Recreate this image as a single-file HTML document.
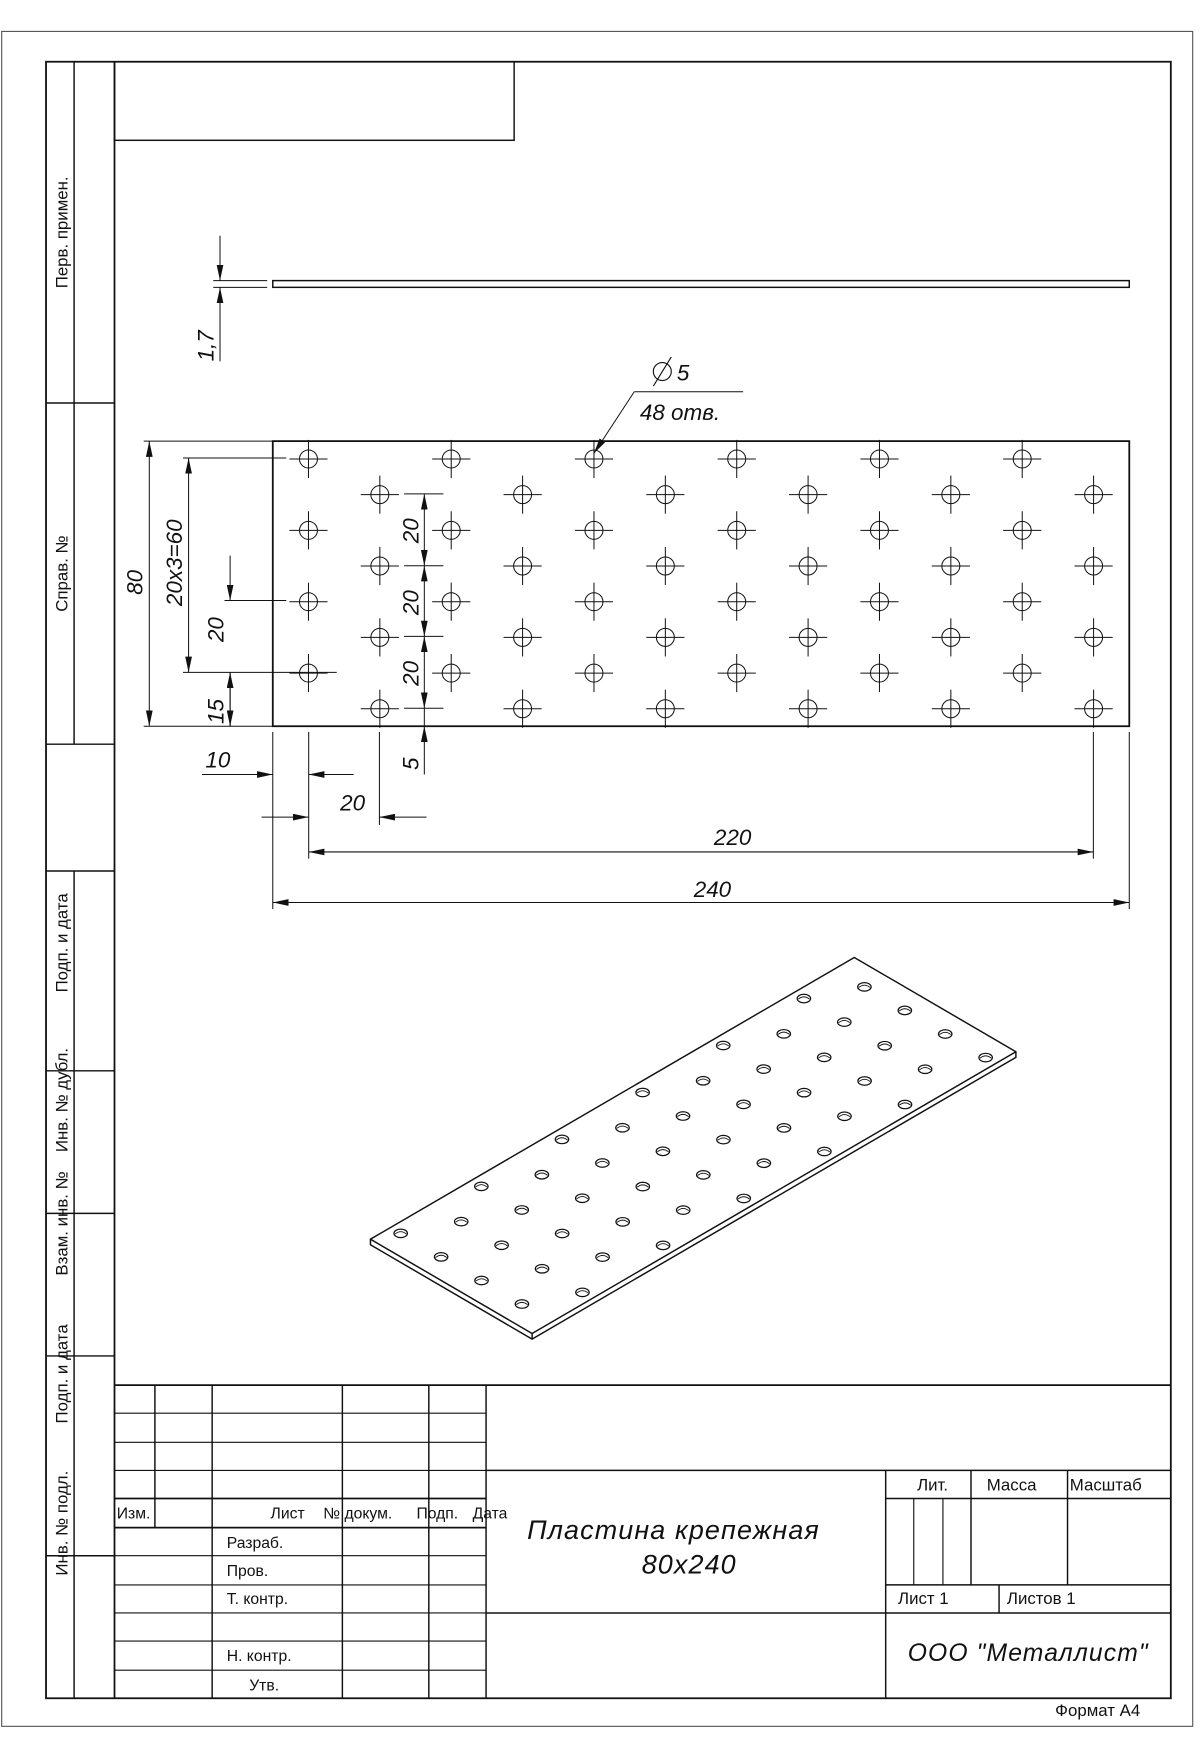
<!DOCTYPE html>
<html><head><meta charset="utf-8"><style>
html,body{margin:0;padding:0;background:#fff}
svg{display:block}
text{font-family:"Liberation Sans","DejaVu Sans",sans-serif;fill:#111}
.d{font-style:italic;font-size:20px}
.s{font-size:14px}
.v{font-size:15px}
</style></head><body>
<svg id="sv" width="1200" height="1760" viewBox="0 0 1069 1568" preserveAspectRatio="none" xmlns="http://www.w3.org/2000/svg">
<defs>
<marker id="ar" viewBox="0 0 14 6" refX="14" refY="3" markerWidth="14" markerHeight="6" markerUnits="userSpaceOnUse" orient="auto-start-reverse"><path d="M0,0 L14,3 L0,6 Z" fill="#111"/></marker>
</defs>
<g fill="none" stroke="#111">
<rect x="1.5" y="28" width="1061" height="1510" stroke-width="1" stroke="#555"/>
<rect x="41" y="55" width="1002" height="1458" stroke-width="1.6"/>
<line x1="102" y1="55" x2="102" y2="1513" stroke-width="1.6"/>
<line x1="66" y1="55" x2="66" y2="663" stroke-width="1.3"/>
<line x1="41" y1="359" x2="102" y2="359" stroke-width="1.3"/>
<line x1="41" y1="663" x2="102" y2="663" stroke-width="1.3"/>
<line x1="66" y1="776" x2="66" y2="1513" stroke-width="1.3"/>
<line x1="41" y1="776" x2="102" y2="776" stroke-width="1.3"/>
<line x1="41" y1="954" x2="102" y2="954" stroke-width="1.3"/>
<line x1="41" y1="1081" x2="102" y2="1081" stroke-width="1.3"/>
<line x1="41" y1="1208" x2="102" y2="1208" stroke-width="1.3"/>
<line x1="41" y1="1386" x2="102" y2="1386" stroke-width="1.3"/>
<rect x="102" y="55" width="356" height="70" stroke-width="1.3"/>
<line x1="102" y1="1234" x2="1043" y2="1234" stroke-width="1.6"/>
<g stroke-width="1">
<line x1="102" y1="1259" x2="433" y2="1259"/>
<line x1="102" y1="1285" x2="433" y2="1285"/>
<line x1="102" y1="1310" x2="433" y2="1310"/>
<line x1="102" y1="1386" x2="433" y2="1386"/>
<line x1="102" y1="1412" x2="433" y2="1412"/>
<line x1="102" y1="1437" x2="433" y2="1437"/>
<line x1="102" y1="1462" x2="433" y2="1462"/>
<line x1="102" y1="1488" x2="433" y2="1488"/>
</g>
<line x1="102" y1="1335" x2="433" y2="1335" stroke-width="1.6"/>
<line x1="102" y1="1361" x2="433" y2="1361" stroke-width="1.6"/>
<line x1="138" y1="1234" x2="138" y2="1361" stroke-width="1.3"/>
<line x1="189" y1="1234" x2="189" y2="1513" stroke-width="1.3"/>
<line x1="305" y1="1234" x2="305" y2="1513" stroke-width="1.3"/>
<line x1="382" y1="1234" x2="382" y2="1513" stroke-width="1.3"/>
<line x1="433" y1="1234" x2="433" y2="1513" stroke-width="1.3"/>
<line x1="433" y1="1310" x2="1043" y2="1310" stroke-width="1.3"/>
<line x1="433" y1="1437" x2="1043" y2="1437" stroke-width="1.3"/>
<line x1="789" y1="1310" x2="789" y2="1513" stroke-width="1.3"/>
<line x1="789" y1="1335" x2="1043" y2="1335" stroke-width="1.3"/>
<line x1="789" y1="1412" x2="1043" y2="1412" stroke-width="1.3"/>
<line x1="865" y1="1310" x2="865" y2="1412" stroke-width="1.3"/>
<line x1="951" y1="1310" x2="951" y2="1412" stroke-width="1.3"/>
<line x1="814" y1="1335" x2="814" y2="1412" stroke-width="1"/>
<line x1="840" y1="1335" x2="840" y2="1412" stroke-width="1"/>
<line x1="890" y1="1412" x2="890" y2="1437" stroke-width="1.3"/>

<rect x="243" y="250" width="763" height="6" stroke-width="1.3"/>
<g stroke-width="0.9">
<line x1="190" y1="250" x2="238" y2="250"/>
<line x1="190" y1="256" x2="238" y2="256"/>
<line x1="196" y1="210" x2="196" y2="250" marker-end="url(#ar)"/>
<line x1="196" y1="322" x2="196" y2="256" marker-end="url(#ar)"/>
</g>
<rect x="243" y="393" width="763" height="254" stroke-width="1.6"/>
<g id="holes" stroke-width="0.9"></g>
<g stroke-width="0.9">
<line x1="565" y1="349" x2="529" y2="404" marker-end="url(#ar)"/>
<line x1="565" y1="349" x2="662" y2="349"/>
<line x1="128" y1="393" x2="243" y2="393"/>
<line x1="128" y1="647" x2="243" y2="647"/>
<line x1="133" y1="393" x2="133" y2="647" marker-start="url(#ar)" marker-end="url(#ar)"/>
<line x1="163" y1="408" x2="255" y2="408"/>
<line x1="163" y1="599" x2="300" y2="599"/>
<line x1="168" y1="408" x2="168" y2="599" marker-start="url(#ar)" marker-end="url(#ar)"/>
<line x1="200" y1="535" x2="255" y2="535"/>
<line x1="205" y1="495" x2="205" y2="535" marker-end="url(#ar)"/>
<line x1="205" y1="647" x2="205" y2="599" marker-end="url(#ar)"/>
<line x1="205" y1="599" x2="205" y2="647" marker-end="url(#ar)"/>
<line x1="360" y1="440" x2="395" y2="440"/>
<line x1="360" y1="504" x2="395" y2="504"/>
<line x1="360" y1="567" x2="395" y2="567"/>
<line x1="360" y1="631" x2="395" y2="631"/>
<line x1="378" y1="440" x2="378" y2="504" marker-start="url(#ar)" marker-end="url(#ar)"/>
<line x1="378" y1="504" x2="378" y2="567" marker-start="url(#ar)" marker-end="url(#ar)"/>
<line x1="378" y1="567" x2="378" y2="631" marker-start="url(#ar)" marker-end="url(#ar)"/>
<line x1="378" y1="690" x2="378" y2="647" marker-end="url(#ar)"/>
<line x1="378" y1="631" x2="378" y2="647"/>
<line x1="243" y1="652" x2="243" y2="810"/>
<line x1="275" y1="652" x2="275" y2="765"/>
<line x1="338" y1="652" x2="338" y2="735"/>
<line x1="974" y1="652" x2="974" y2="765"/>
<line x1="1006" y1="652" x2="1006" y2="810"/>
<line x1="180" y1="690" x2="243" y2="690" marker-end="url(#ar)"/>
<line x1="315" y1="690" x2="275" y2="690" marker-end="url(#ar)"/>
<line x1="233" y1="728" x2="275" y2="728" marker-end="url(#ar)"/>
<line x1="380" y1="728" x2="338" y2="728" marker-end="url(#ar)"/>
<line x1="275" y1="759" x2="974" y2="759" marker-start="url(#ar)" marker-end="url(#ar)"/>
<line x1="243" y1="804" x2="1006" y2="804" marker-start="url(#ar)" marker-end="url(#ar)"/>
</g>
<g stroke-width="1.3" stroke-linejoin="round">
<polygon points="330,1104 761,853 905,937 474,1188"/>
<polyline points="330,1104 330,1109 474,1193 905,942 905,937"/>
<line x1="474" y1="1188" x2="474" y2="1193"/>
</g>
<g id="iso" stroke-width="1.1"></g>
</g>
<circle cx="590" cy="331" r="8" fill="none" stroke="#111" stroke-width="1"/>
<line x1="582" y1="344" x2="598" y2="318" stroke="#111" stroke-width="1"/>

<text class="d" transform="translate(190,322) rotate(-90)">1,7</text>
<text class="d" x="603" y="339">5</text>
<text class="d" x="570" y="374">48 отв.</text>
<text class="d" transform="translate(127,530) rotate(-90)">80</text>
<text class="d" transform="translate(162,540) rotate(-90)">20x3=60</text>
<text class="d" transform="translate(199,572) rotate(-90)">20</text>
<text class="d" transform="translate(199,645) rotate(-90)">15</text>
<text class="d" transform="translate(373,484) rotate(-90)">20</text>
<text class="d" transform="translate(373,548) rotate(-90)">20</text>
<text class="d" transform="translate(373,611) rotate(-90)">20</text>
<text class="d" transform="translate(373,686) rotate(-90)">5</text>
<text class="d" x="183" y="684">10</text>
<text class="d" x="303" y="722">20</text>
<text class="d" x="636" y="753">220</text>
<text class="d" x="618" y="799">240</text>

<text class="v" text-anchor="middle" transform="translate(60,207) rotate(-90)">Перв. примен.</text>
<text class="v" text-anchor="middle" transform="translate(60,511) rotate(-90)">Справ. №</text>
<text class="v" text-anchor="middle" transform="translate(60,840) rotate(-90)">Подп. и дата</text>
<text class="v" text-anchor="middle" transform="translate(60,980) rotate(-90)">Инв. № дубл.</text>
<text class="v" text-anchor="middle" transform="translate(60,1090) rotate(-90)">Взам. инв. №</text>
<text class="v" text-anchor="middle" transform="translate(60,1224) rotate(-90)">Подп. и дата</text>
<text class="v" text-anchor="middle" transform="translate(60,1357) rotate(-90)">Инв. № подл.</text>

<text class="s" x="104" y="1353">Изм.</text>
<text class="s" x="241" y="1353">Лист</text>
<text class="s" x="288" y="1353">№ докум.</text>
<text class="s" x="371" y="1353">Подп.</text>
<text class="s" x="421" y="1353">Дата</text>
<text class="s" x="202" y="1379">Разраб.</text>
<text class="s" x="202" y="1404">Пров.</text>
<text class="s" x="202" y="1429">Т. контр.</text>
<text class="s" x="202" y="1480">Н. контр.</text>
<text class="s" x="222" y="1506">Утв.</text>
<text class="v" x="817" y="1328">Лит.</text>
<text class="v" x="879" y="1328">Масса</text>
<text class="v" x="953" y="1328">Масштаб</text>
<text class="v" x="800" y="1429">Лист 1</text>
<text class="v" x="897" y="1429">Листов 1</text>
<text class="v" x="940" y="1529">Формат А4</text>
<text class="d" x="600" y="1371" text-anchor="middle" style="font-size:24px;letter-spacing:1px">Пластина крепежная</text>
<text class="d" x="614" y="1402" text-anchor="middle" style="font-size:24px;letter-spacing:1px">80x240</text>
<text class="d" x="916" y="1480" text-anchor="middle" style="font-size:22px;letter-spacing:1px">ООО "Металлист"</text>
</svg>
<script>
(function(){
var NS="http://www.w3.org/2000/svg";
function el(p,t,a){var e=document.createElementNS(NS,t);for(var k in a)e.setAttribute(k,a[k]);p.appendChild(e);return e;}
var h=document.getElementById("holes"),iso=document.getElementById("iso");
var s=763/240;
var A=[330,1104],B=[761,853],D=[474,1188];
for(var c=0;c<12;c++){
 var u=10+c*20;
 var vs=(c%2==0)?[5,25,45,65]:[15,35,55,75];
 for(var i=0;i<4;i++){
  var v=vs[i];
  var x=243+u*s,y=393+v*s;
  el(h,"circle",{cx:x,cy:y,r:8});
  el(h,"line",{x1:x-17,y1:y,x2:x+17,y2:y});
  el(h,"line",{x1:x,y1:y-17,x2:x,y2:y+17});
  var px=A[0]+u/240*(B[0]-A[0])+v/80*(D[0]-A[0]);
  var py=A[1]+u/240*(B[1]-A[1])+v/80*(D[1]-A[1]);
  el(iso,"ellipse",{cx:px,cy:py,rx:6,ry:3.8});
  el(iso,"path",{d:"M"+(px-5)+","+(py+0.5)+" Q"+px+","+(py-3.5)+" "+(px+5)+","+(py+0.5),"stroke-width":"0.8"});
 }
}
})();
</script>
</body></html>
